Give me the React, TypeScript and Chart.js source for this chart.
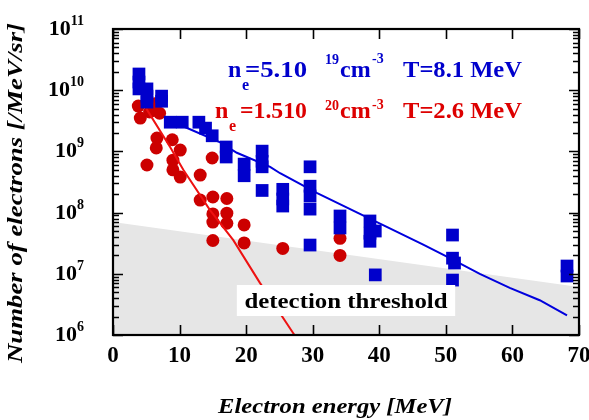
import { useEffect, useRef } from 'react';
import { Chart, registerables } from 'chart.js';

Chart.register(...registerables);

// ---- data ----
const blueEnergy = [
  3.9, 3.9, 3.9, 5.1, 5.1, 5.1, 7.3, 7.3, 8.6, 10.4, 12.9, 13.9, 14.9, 17.0, 17.0,
  19.7, 19.7, 22.4, 22.4, 22.4, 22.4, 25.5, 25.5, 25.5, 29.6, 29.6, 29.6, 29.6, 29.6,
  34.1, 34.1, 38.6, 38.6, 38.6, 39.4, 39.4, 51.0, 51.0, 51.3, 51.0, 68.2, 68.2,
];
const blueCounts = [
  1.84e10, 1.36e10, 1.05e10, 1.05e10, 8.0e9, 6.4e9, 8.0e9, 6.6e9, 3.0e9, 3.0e9, 3.0e9, 2.4e9, 1.8e9, 1.18e9, 8.1e8,
  6.2e8, 4.0e8, 1.01e9, 6.9e8, 5.6e8, 2.3e8, 2.4e8, 1.67e8, 1.28e8, 5.6e8, 2.7e8, 1.87e8, 1.14e8, 2.95e7,
  8.8e7, 5.6e7, 7.3e7, 4.6e7, 3.4e7, 5.0e7, 9.6e6, 4.3e7, 1.8e7, 1.5e7, 7.9e6, 1.34e7, 9.2e6,
];

const redEnergy = [
  3.8, 4.1, 5.5, 6.3, 7.0, 6.6, 8.9, 6.5, 10.1, 5.1, 9.0, 9.0, 10.1, 13.1, 14.9, 13.1,
  15.0, 17.1, 15.0, 17.1, 15.0, 17.1, 19.7, 15.0, 19.7, 25.5, 34.1, 34.1,
];
const redCounts = [
  5.5e9, 3.5e9, 4.4e9, 6.0e9, 4.2e9, 1.65e9, 1.55e9, 1.14e9, 1.05e9, 6.0e8, 7.2e8, 5.0e8, 3.8e8, 4.1e8, 7.8e8, 1.6e8,
  1.8e8, 1.7e8, 9.5e7, 9.8e7, 7.0e7, 6.7e7, 6.3e7, 3.5e7, 3.2e7, 2.6e7, 3.8e7, 2.0e7,
];

const blueFitEnergy = [8, 10.1, 16.1, 18.6, 23.6, 25.1, 30.6, 36.7, 41.2, 46.6, 50.6, 55.1, 59.6, 64.1, 68.2];
const blueFitCounts = [3.5e9, 2.7e9, 1.4e9, 9.5e8, 5.6e8, 4.4e8, 2.1e8, 1.0e8, 5.8e7, 3.0e7, 1.8e7, 1.0e7, 5.9e6, 3.7e6, 2.1e6];

const redFitEnergy = [5, 8.6, 10.56, 14.57, 18.07, 22.07, 27.08, 28.5];
const redFitCounts = [5.0e9, 1.17e9, 5.0e8, 1.1e8, 3.55e7, 7.1e6, 1.07e6, 6.3e5];

const thresholdEnergy = [0, 70];
const thresholdCounts = [7.0e7, 6.1e6];

const xTickValues = [0, 10, 20, 30, 40, 50, 60, 70];
const yDecades = [6, 7, 8, 9, 10, 11];

const xTitle = 'Electron energy [MeV]';
const yTitle = 'Number of electrons [/MeV/sr]';
const thresholdLabel = 'detection threshold';

const BLUE = '#0000cc';
const RED = '#dd0000';
const FONT = '"Liberation Serif"';

const pts = (xs: number[], ys: number[]) => xs.map((x, i) => ({ x, y: ys[i] }));

function drawText(
  ctx: CanvasRenderingContext2D,
  s: string,
  x: number,
  y: number,
  size: number,
  color: string,
  opts: { italic?: boolean; align?: CanvasTextAlign; width?: number; rotate?: number; baseline?: CanvasTextBaseline } = {}
) {
  ctx.save();
  ctx.font = `${opts.italic ? 'italic ' : ''}bold ${size}px ${FONT}`;
  ctx.fillStyle = color;
  ctx.textAlign = opts.align || 'left';
  ctx.textBaseline = opts.baseline || 'alphabetic';
  ctx.translate(x, y);
  if (opts.rotate) ctx.rotate(opts.rotate);
  if (opts.width) {
    const w = ctx.measureText(s).width;
    ctx.scale(opts.width / w, 1);
  }
  ctx.fillText(s, 0, 0);
  ctx.restore();
}

const framePlugin = {
  id: 'framePlugin',
  afterDatasetsDraw(chart: any) {
    const ctx: CanvasRenderingContext2D = chart.ctx;
    const { left, right, top, bottom } = chart.chartArea;
    const xs = chart.scales.x;
    const ys = chart.scales.y;

    // detection threshold label box
    ctx.save();
    ctx.fillStyle = '#ffffff';
    const bx0 = xs.getPixelForValue(18.6);
    const bx1 = xs.getPixelForValue(51.4);
    ctx.fillRect(bx0, 285, bx1 - bx0, 31);
    ctx.restore();
    drawText(ctx, thresholdLabel, (bx0 + bx1) / 2, 308, 22, '#000', { align: 'center', width: 203 });

    ctx.save();
    ctx.strokeStyle = '#000';
    ctx.lineWidth = 1.6;
    ctx.beginPath();
    xTickValues.forEach((v) => {
      const px = Math.round(xs.getPixelForValue(v)) + 0.5;
      ctx.moveTo(px, bottom);
      ctx.lineTo(px, bottom - 10);
      ctx.moveTo(px, top);
      ctx.lineTo(px, top + 10);
    });
    yDecades.forEach((d) => {
      for (let m = 1; m <= 9; m++) {
        if (d === 11 && m > 1) continue;
        const py = Math.round(ys.getPixelForValue(m * Math.pow(10, d))) + 0.5;
        const len = m === 1 ? 10 : 6;
        ctx.moveTo(left, py);
        ctx.lineTo(left + len, py);
        ctx.moveTo(right, py);
        ctx.lineTo(right - len, py);
      }
    });
    ctx.stroke();
    ctx.lineWidth = 2.2;
    ctx.strokeRect(left, top, right - left, bottom - top);
    ctx.restore();

    xTickValues.forEach((v) => {
      drawText(ctx, String(v), xs.getPixelForValue(v), 362, 23, '#000', { align: 'center' });
    });
    yDecades.forEach((d) => {
      const py = ys.getPixelForValue(Math.pow(10, d));
      ctx.save();
      ctx.font = `bold 14px ${FONT}`;
      const supW = ctx.measureText(String(d)).width;
      ctx.font = `bold 22px ${FONT}`;
      const mainW = ctx.measureText('10').width;
      ctx.restore();
      const R = 84;
      drawText(ctx, String(d), R - supW, py - 4, 14, '#000');
      drawText(ctx, '10', R - supW - mainW, py + 6, 22, '#000');
    });

    drawText(ctx, xTitle, 335, 413, 21, '#000', { italic: true, align: 'center', width: 234 });
    drawText(ctx, yTitle, 17, 193, 21, '#000', {
      italic: true,
      align: 'center',
      baseline: 'middle',
      rotate: -Math.PI / 2,
      width: 340,
    });

    drawText(ctx, 'n', 228, 77, 24, BLUE);
    drawText(ctx, 'e', 242, 90, 16, BLUE);
    drawText(ctx, '=5.10', 245, 77, 24, BLUE, { width: 62 });
    drawText(ctx, '19', 325, 64, 14, BLUE);
    drawText(ctx, 'cm', 340, 77, 24, BLUE);
    drawText(ctx, '-3', 372, 63, 14, BLUE);
    drawText(ctx, 'T=8.1 MeV', 403, 77, 24, BLUE, { width: 119 });

    drawText(ctx, 'n', 215, 118, 24, RED);
    drawText(ctx, 'e', 229, 131, 16, RED);
    drawText(ctx, '=1.510', 240, 118, 24, RED, { width: 67 });
    drawText(ctx, '20', 325, 110, 14, RED);
    drawText(ctx, 'cm', 340, 118, 24, RED);
    drawText(ctx, '-3', 372, 109, 14, RED);
    drawText(ctx, 'T=2.6 MeV', 403, 118, 24, RED, { width: 119 });
  },
};

export default function App() {
  const ref = useRef<HTMLCanvasElement>(null);
  useEffect(() => {
    const canvas = ref.current!;
    const chart = new Chart(canvas, {
      type: 'scatter',
      data: {
        datasets: [
          {
            type: 'line',
            data: pts(thresholdEnergy, thresholdCounts),
            fill: 'start',
            backgroundColor: '#e6e6e6',
            borderWidth: 0,
            borderColor: 'rgba(0,0,0,0)',
            pointRadius: 0,
            order: 10,
          } as any,
          {
            data: pts(redEnergy, redCounts),
            pointStyle: 'circle',
            pointRadius: 6.5,
            backgroundColor: '#cc0000',
            borderColor: '#cc0000',
            borderWidth: 0,
            order: 8,
          },
          {
            type: 'line',
            data: pts(redFitEnergy, redFitCounts),
            borderColor: '#ee1111',
            borderWidth: 2,
            pointRadius: 0,
            fill: false,
            tension: 0,
            order: 6,
          } as any,
          {
            type: 'line',
            data: pts(blueFitEnergy, blueFitCounts),
            borderColor: '#0000dd',
            borderWidth: 2,
            pointRadius: 0,
            fill: false,
            tension: 0,
            order: 4,
          } as any,
          {
            data: pts(blueEnergy, blueCounts),
            pointStyle: 'rect',
            pointRadius: 9,
            backgroundColor: BLUE,
            borderColor: BLUE,
            borderWidth: 0,
            order: 2,
          },
        ],
      },
      options: {
        animation: false,
        responsive: false,
        devicePixelRatio: 1,
        layout: { padding: { left: 113, top: 29, right: 10, bottom: 85 } },
        scales: {
          x: { type: 'linear', min: 0, max: 70, display: false },
          y: { type: 'logarithmic', min: 1e6, max: 1e11, display: false },
        },
        plugins: {
          legend: { display: false },
          tooltip: { enabled: false },
        },
        events: [],
      },
      plugins: [framePlugin],
    });
    return () => chart.destroy();
  }, []);
  return (
    <div style={{ position: 'fixed', left: 0, top: 0, width: 589, height: 420, background: '#fff' }}>
      <canvas ref={ref} width={589} height={420} style={{ display: 'block' }} />
    </div>
  );
}
